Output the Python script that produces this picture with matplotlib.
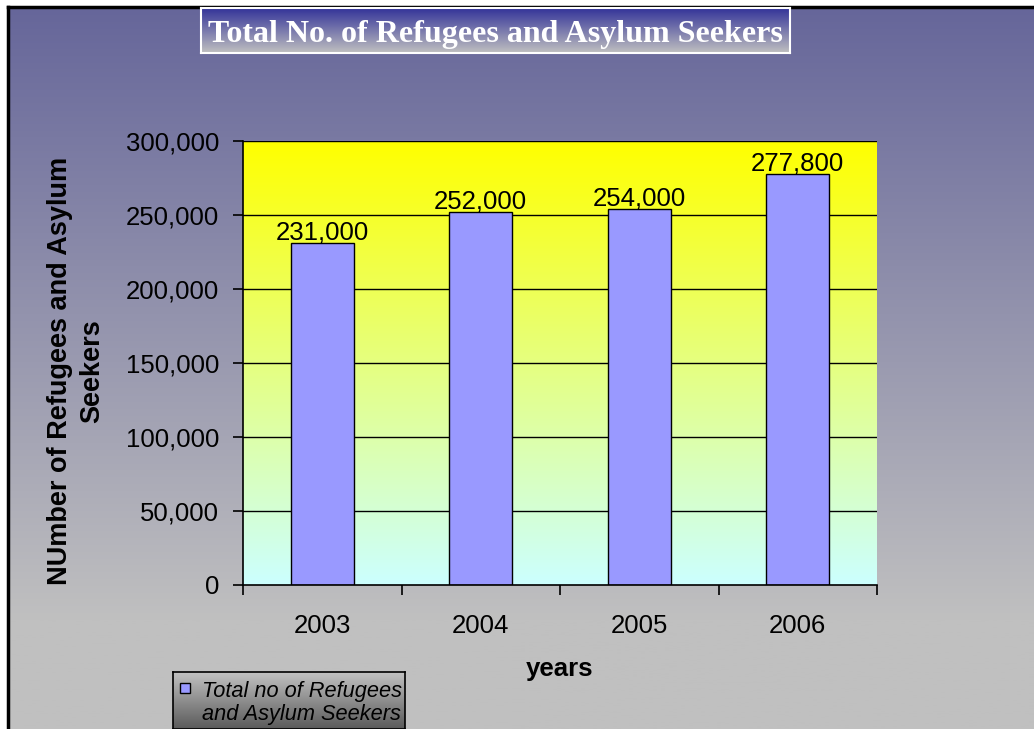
import numpy as np
import matplotlib.pyplot as plt
from matplotlib.colors import LinearSegmentedColormap
from matplotlib.patches import Rectangle
from matplotlib.ticker import FuncFormatter

years = ['2003', '2004', '2005', '2006']
refugees = [231000, 252000, 254000, 277800]
series_lines = ['Total no of Refugees', 'and Asylum Seekers']
title = 'Total No. of Refugees and Asylum Seekers'
y_label = 'NUmber of Refugees and Asylum\nSeekers'
x_label = 'years'

W, H = 1034, 729
fig = plt.figure(figsize=(W / 100, H / 100), dpi=100)
fig.patch.set_facecolor('white')


def grad_axes(rect, top, bottom, stop=1.0, zorder=0):
    a = fig.add_axes(rect, zorder=zorder)
    cmap = LinearSegmentedColormap.from_list('g', [(0, top), (stop, bottom), (1, bottom)])
    a.imshow(np.linspace(0, 1, 256).reshape(-1, 1), cmap=cmap, aspect='auto',
             extent=(0, 1, 0, 1), origin='upper')
    a.set_xlim(0, 1)
    a.set_ylim(0, 1)
    a.set_xticks([])
    a.set_yticks([])
    return a


# page background
bg = grad_axes([8 / W, 0, 1 - 8 / W, (H - 7) / H], '#66669a', '#c0c0c0', stop=0.85, zorder=-5)
for s in ['right', 'bottom']:
    bg.spines[s].set_visible(False)
for s in ['top', 'left']:
    bg.spines[s].set_linewidth(2.5)
    bg.spines[s].set_color('black')

# title box
tb = grad_axes([201 / W, 1 - 53 / H, (790 - 201) / W, 45 / H], '#333399', '#c0c0c0', zorder=2)
for s in tb.spines.values():
    s.set_color('white')
    s.set_linewidth(1.5)
tb.text(0.5, 0.42, title, ha='center', va='center', color='white',
        fontsize=23, fontweight='bold', family='Liberation Serif')

# plot area
ax = fig.add_axes([243 / W, 1 - 585 / H, (877 - 243) / W, (585 - 141) / H], zorder=1)
x = np.arange(len(years))
cmap = LinearSegmentedColormap.from_list('p', ['#ffff00', '#ccffff'])
ax.imshow(np.linspace(0, 1, 256).reshape(-1, 1), cmap=cmap, aspect='auto',
          extent=(-0.5, 3.5, 0, 300000), origin='upper', zorder=0)
ax.set_xlim(-0.5, 3.5)
ax.set_ylim(0, 300000)
for yv in range(50000, 300001, 50000):
    ax.axhline(yv, color='black', lw=1, zorder=1)
bars = ax.bar(x, refugees, width=0.4, color='#9999ff', edgecolor='black', lw=1, zorder=2)
for xi, v in zip(x, refugees):
    ax.annotate(f'{v:,}', (xi, v), xytext=(0, 2.5), textcoords='offset points',
                ha='center', va='baseline', fontsize=18.5, family='Liberation Sans',
                zorder=3)

ax.set_yticks(range(0, 300001, 50000))
ax.yaxis.set_major_formatter(FuncFormatter(lambda v, p: f'{int(v):,}'))
ax.set_xticks(np.arange(-0.5, 3.6, 1))
ax.set_xticklabels([])
ax.set_xticks(x, minor=True)
ax.set_xticklabels(years, minor=True)
ax.tick_params(axis='x', which='minor', length=0, pad=21, labelsize=18.5)
ax.tick_params(axis='x', which='major', length=7, width=1.2, direction='out')
ax.tick_params(axis='y', length=7, width=1.2, direction='out', labelsize=18.5, pad=10)
for lbl in ax.get_xticklabels(minor=True) + ax.get_yticklabels():
    lbl.set_family('Liberation Sans')
ax.spines['top'].set_visible(False)
ax.spines['right'].set_visible(False)
ax.spines['left'].set_linewidth(1.2)
ax.spines['bottom'].set_linewidth(1.2)

fig.text(560 / W, 1 - 669 / H, x_label, ha='center', va='center', fontsize=18.5,
         fontweight='bold', family='Liberation Sans')
fig.text(76 / W, 1 - 371 / H, y_label, ha='center', va='center', rotation=90,
         multialignment='center', fontsize=19.5, fontweight='bold',
         family='Liberation Sans', linespacing=1.3)

# legend box
lb_h = H - 672
lb = grad_axes([173 / W, 0, (405 - 173) / W, lb_h / H], '#c4c4c4', '#5a5a5a', zorder=2)
for s in lb.spines.values():
    s.set_color('black')
    s.set_linewidth(1.2)
lb.add_patch(Rectangle((7 / 232, (H - 693) / lb_h), 10 / 232, 10 / lb_h,
                       facecolor='#9999ff', edgecolor='black', lw=1))
for line, base in zip(series_lines, [697, 720]):
    lb.text(29 / 232, (H - base) / lb_h, line, ha='left', va='baseline', fontsize=15.7,
            style='italic', family='Liberation Sans')

fig.savefig('out.png', dpi=100)
